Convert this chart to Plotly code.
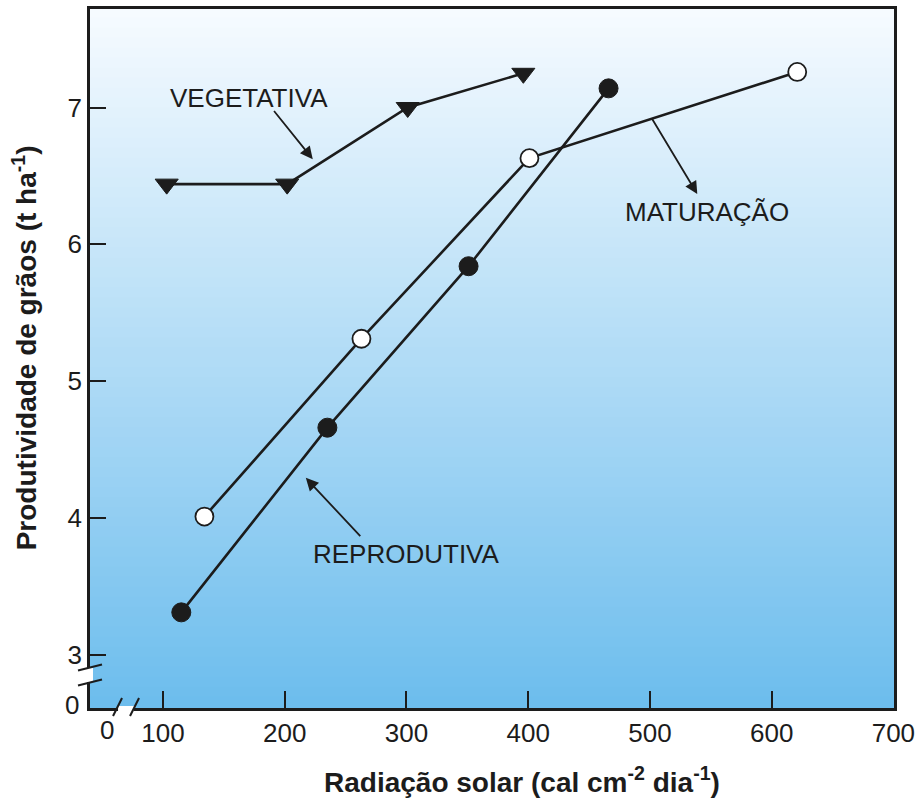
import plotly.graph_objects as go

# Grain yield vs. solar radiation, by crop growth stage
veg_x = [103, 202, 301, 396]
veg_y = [6.44, 6.44, 7.00, 7.25]

rep_x = [115, 235, 351, 466]
rep_y = [3.31, 4.66, 5.84, 7.14]

mat_x = [134, 263, 401, 621]
mat_y = [4.01, 5.31, 6.63, 7.26]

x_ticks = [100, 200, 300, 400, 500, 600, 700]
y_ticks = [3, 4, 5, 6, 7]

FONT = "Liberation Sans, Arial, sans-serif"
INK = "#1c1c1c"

fig = go.Figure()

line_style = dict(color=INK, width=2.6)

fig.add_trace(go.Scatter(
    x=veg_x, y=veg_y, mode="lines+markers", name="VEGETATIVA",
    line=line_style,
    marker=dict(symbol="triangle-down", size=20, color=INK,
                line=dict(color=INK, width=1)),
))
fig.add_trace(go.Scatter(
    x=rep_x, y=rep_y, mode="lines+markers", name="REPRODUTIVA",
    line=line_style,
    marker=dict(symbol="circle", size=19, color=INK,
                line=dict(color=INK, width=1)),
))
fig.add_trace(go.Scatter(
    x=mat_x, y=mat_y, mode="lines+markers", name="MATURAÇÃO",
    line=line_style,
    marker=dict(symbol="circle", size=18, color="white",
                line=dict(color=INK, width=1.8)),
))

# vertical white-to-blue gradient behind the data
shapes = []
n = 70
top = (247, 251, 255)
bot = (108, 189, 237)
for i in range(n):
    t = (i + 0.5) / n
    c = tuple(round(top[k] + (bot[k] - top[k]) * t) for k in range(3))
    shapes.append(dict(
        type="rect", xref="x domain", yref="y domain",
        x0=0, x1=1, y0=1 - (i + 1) / n, y1=1 - i / n + 0.002,
        fillcolor="rgb(%d,%d,%d)" % c, line=dict(width=0), layer="below",
    ))

# axis break marks on both axes
xb = 69.6
shapes.append(dict(type="rect", xref="x", yref="y domain", xsizemode="pixel",
                   ysizemode="pixel", xanchor=xb, yanchor=0,
                   x0=-8, x1=8, y0=-5, y1=2, fillcolor="white",
                   line=dict(width=0), layer="above"))
for dx in (-8.5, 8.5):
    shapes.append(dict(type="line", xref="x", yref="y domain", xsizemode="pixel",
                       ysizemode="pixel", xanchor=xb, yanchor=0,
                       x0=dx - 4.5, x1=dx + 4.5, y0=-8, y1=10,
                       line=dict(color=INK, width=2), layer="above"))
yb = 2.852
shapes.append(dict(type="rect", xref="x domain", yref="y", xsizemode="pixel",
                   ysizemode="pixel", xanchor=0, yanchor=yb,
                   x0=-12, x1=3, y0=-7, y1=7, fillcolor="white",
                   line=dict(width=0), layer="above"))
for dy in (7.5, -7.5):
    shapes.append(dict(type="line", xref="x domain", yref="y", xsizemode="pixel",
                       ysizemode="pixel", xanchor=0, yanchor=yb,
                       x0=-12, x1=12, y0=dy - 3, y1=dy + 3,
                       line=dict(color=INK, width=2), layer="above"))

label_font = dict(family=FONT, size=26, color=INK)
title_font = dict(family=FONT, size=28, color=INK)

arrow_style = dict(xref="x", yref="y", axref="x", ayref="y", text="",
                   showarrow=True, arrowhead=2, arrowsize=1.4,
                   arrowwidth=1.8, arrowcolor=INK, standoff=0)

annotations = [
    # stage labels
    dict(x=170.5, y=7.07, xref="x", yref="y", text="VEGETATIVA",
         showarrow=False, font=label_font),
    dict(x=546.6, y=6.236, xref="x", yref="y", text="MATURAÇÃO",
         showarrow=False, font=label_font),
    dict(x=300.2, y=3.739, xref="x", yref="y", text="REPRODUTIVA",
         showarrow=False, font=label_font),
    # pointer arrows (head at x/y, tail at ax/ay)
    dict(x=223.0, y=6.622, ax=190.2, ay=6.985, **arrow_style),
    dict(x=538.9, y=6.367, ax=501.1, ay=6.927, **arrow_style),
    dict(x=217.3, y=4.293, ax=263.2, ay=3.856, **arrow_style),
    # zero labels beyond the axis breaks
    dict(x=54, y=0, xref="x", yref="y domain", text="0", showarrow=False,
         yanchor="top", yshift=-5, font=label_font),
    dict(x=0, y=0, xref="x domain", yref="y domain", text="0", showarrow=False,
         xanchor="right", yanchor="middle", xshift=-9, yshift=3,
         font=label_font),
    # axis titles
    dict(x=394.5, y=0, xref="x", yref="paper", yanchor="middle", yshift=-72,
         text="<b>Radiação solar (cal cm<sup>-2</sup> dia<sup>-1</sup>)</b>",
         showarrow=False, font=title_font),
    dict(x=0, y=5.24, xref="paper", yref="y", xanchor="center", xshift=-65,
         textangle=-90,
         text="<b>Produtividade de grãos (t ha<sup>-1</sup>)</b>",
         showarrow=False, font=title_font),
]

fig.update_layout(
    width=921, height=799,
    margin=dict(l=90, r=26, t=6, b=91),
    paper_bgcolor="white",
    plot_bgcolor="rgb(180,220,245)",
    showlegend=False,
    shapes=shapes,
    annotations=annotations,
    font=dict(family=FONT, size=26, color=INK),
)

fig.update_xaxes(
    range=[40, 700.5], tickvals=x_ticks, ticks="inside", ticklen=17,
    tickwidth=2, tickcolor=INK, showgrid=False, zeroline=False,
    showline=True, linecolor=INK, linewidth=2.5, mirror=True,
    tickfont=label_font,
)
fig.update_yaxes(
    range=[2.611, 7.72], tickvals=y_ticks, ticks="inside", ticklen=16,
    tickwidth=2, tickcolor=INK, showgrid=False, zeroline=False,
    showline=True, linecolor=INK, linewidth=2.5, mirror=True,
    tickfont=label_font,
)

fig.write_html("out.html")
